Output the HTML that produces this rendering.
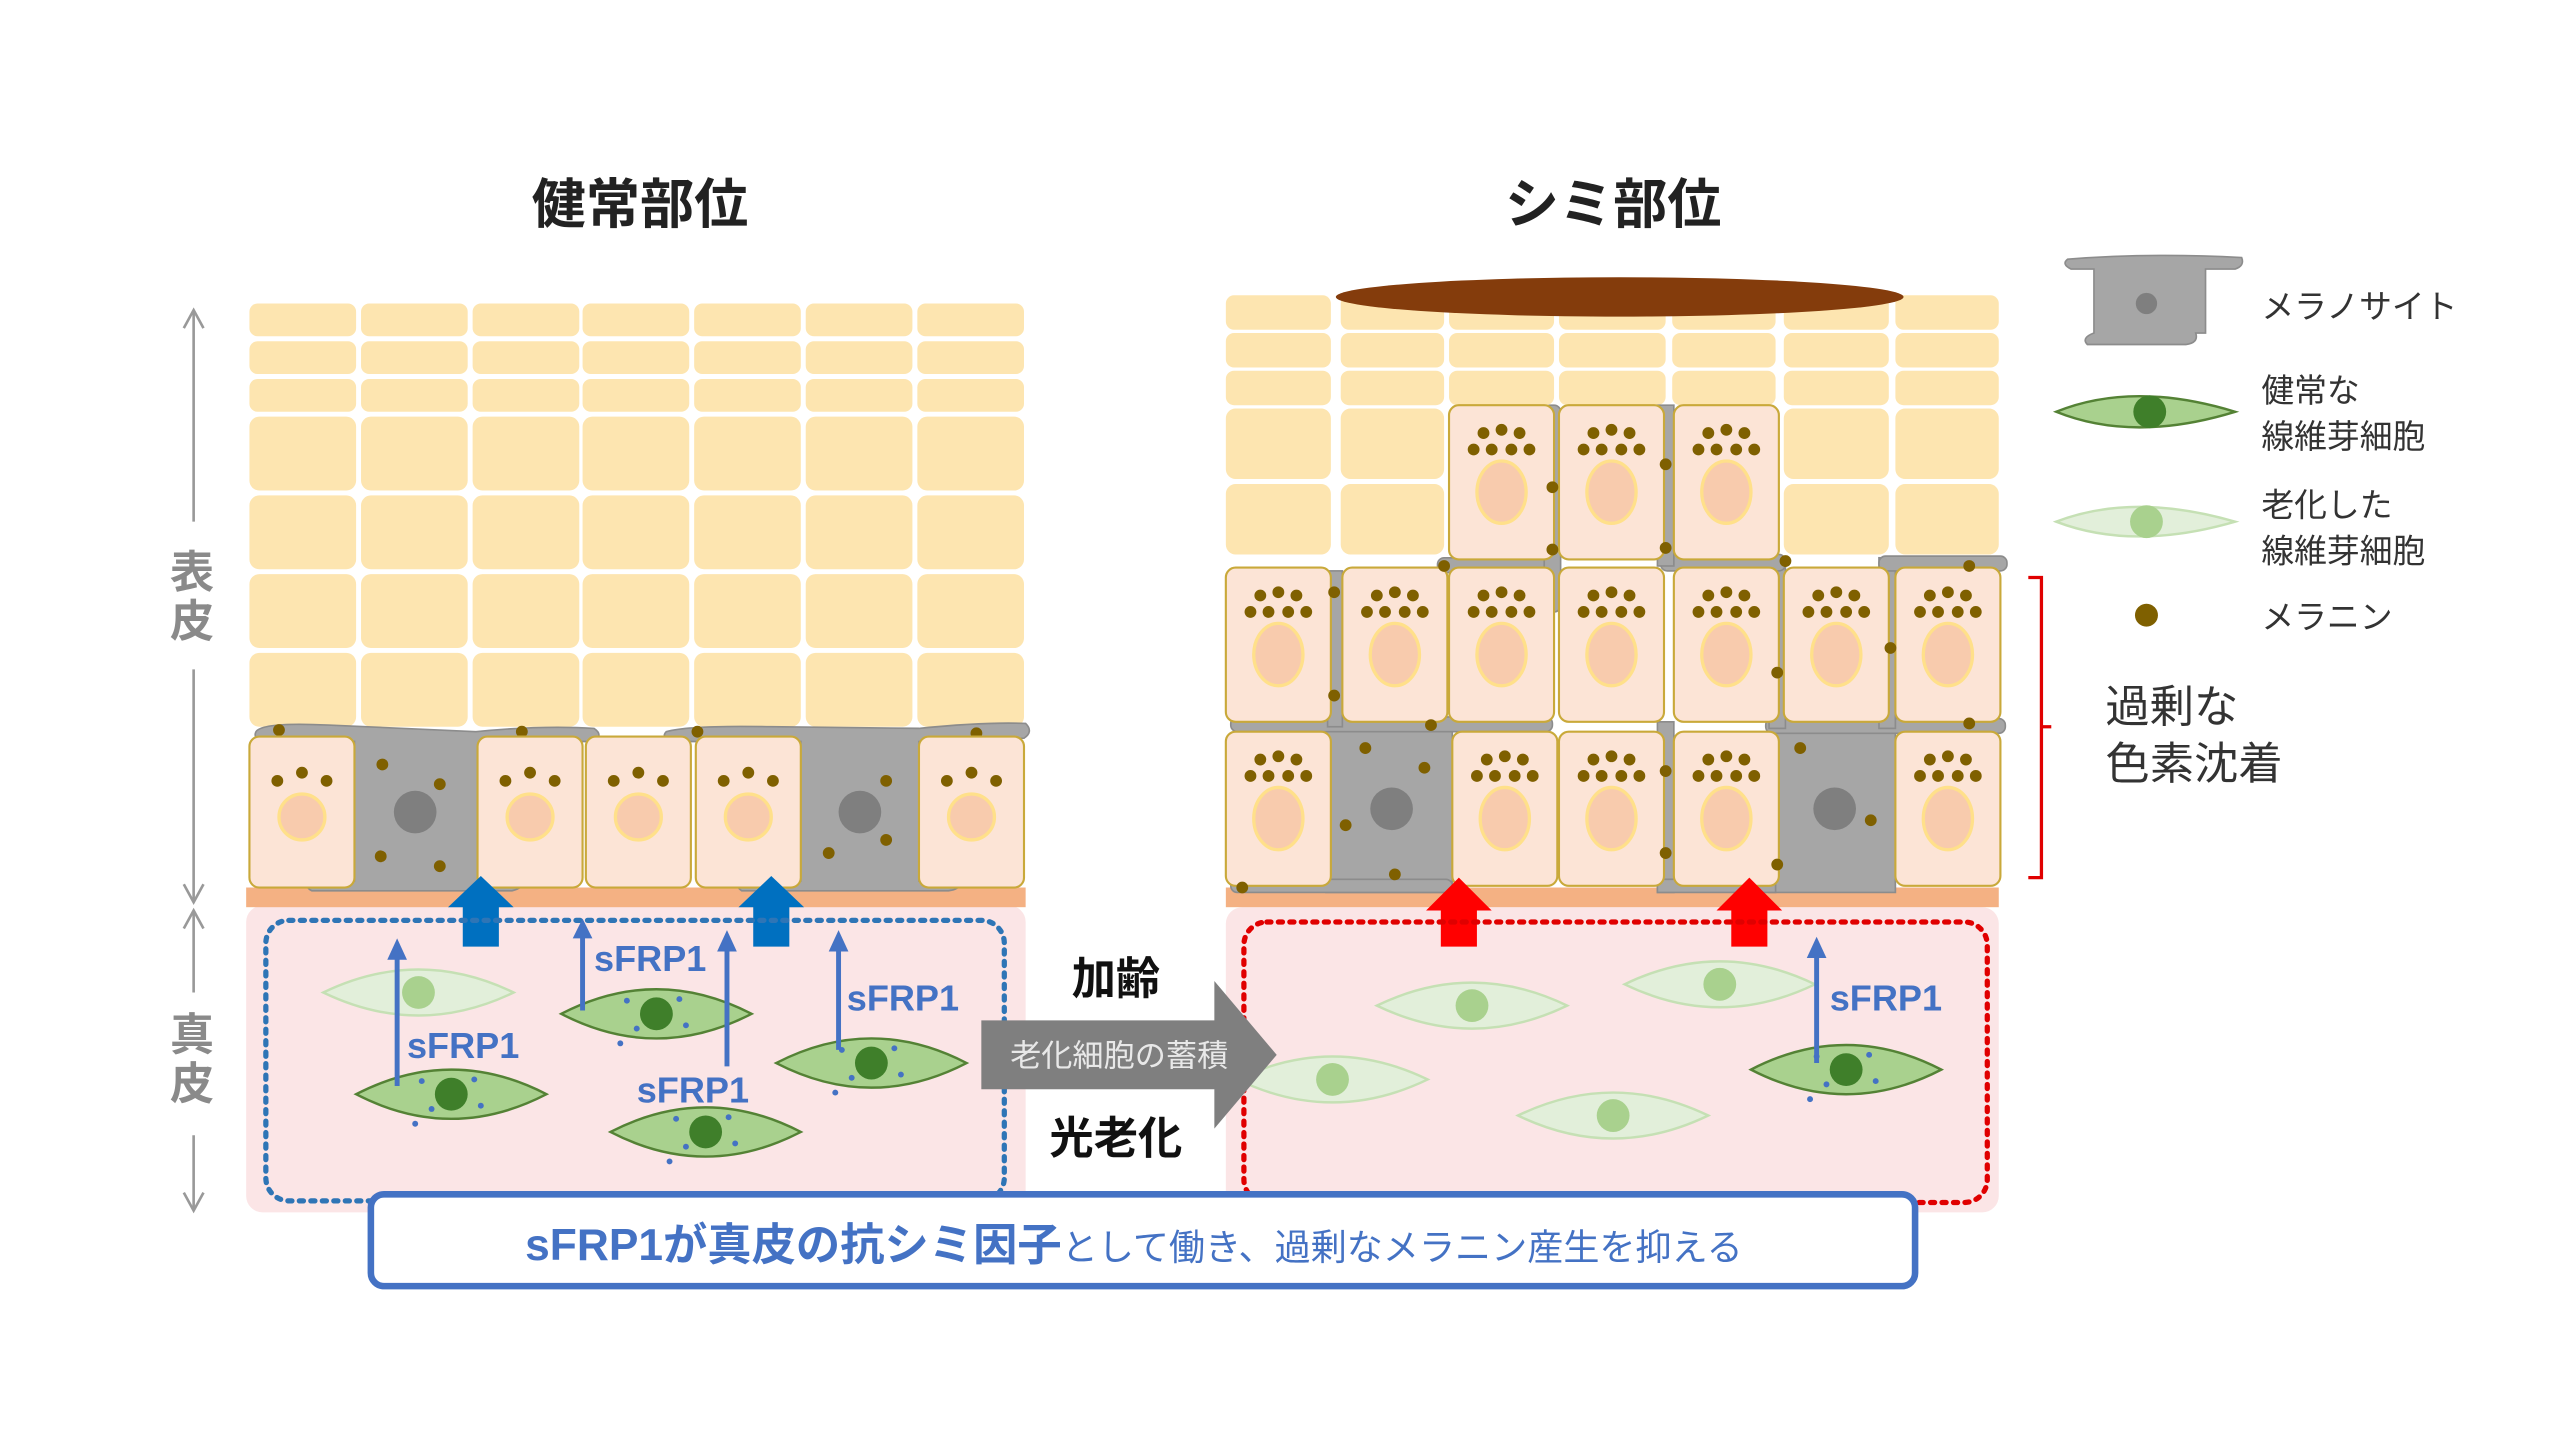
<!DOCTYPE html>
<html><head><meta charset="utf-8"><style>
html,body{margin:0;padding:0;background:#fff;width:2560px;height:1442px;overflow:hidden}
svg{display:block}
text{font-family:"Liberation Sans","Noto Sans CJK JP",sans-serif}
</style></head><body>
<svg width="2560" height="1442" viewBox="0 0 1560 879" preserveAspectRatio="none" xmlns="http://www.w3.org/2000/svg">
<defs>
<g id="kb"><rect x="0" y="0" width="64" height="92" rx="6" fill="#fce4d6" stroke="#c9a93a" stroke-width="1.3"/>
<circle cx="17" cy="27" r="3.6" fill="#7f6000"/><circle cx="32" cy="22" r="3.6" fill="#7f6000"/><circle cx="47" cy="27" r="3.6" fill="#7f6000"/>
<circle cx="32" cy="49" r="14" fill="#f8cbad" stroke="#ffe08a" stroke-width="2"/></g>
<g id="kr"><rect x="0" y="0" width="64" height="94" rx="6" fill="#fce4d6" stroke="#c9a93a" stroke-width="1.3"/>
<g fill="#7f6000"><circle cx="21" cy="17" r="3.6"/><circle cx="32" cy="15" r="3.6"/><circle cx="43" cy="17" r="3.6"/>
<circle cx="15" cy="27" r="3.6"/><circle cx="26" cy="27" r="3.6"/><circle cx="38" cy="27" r="3.6"/><circle cx="49" cy="27" r="3.6"/></g>
<ellipse cx="32" cy="53" rx="15" ry="19" fill="#f8cbad" stroke="#ffe08a" stroke-width="2"/></g>
<g id="fh"><path d="M-58,0 Q0,-30 58,0 Q0,30 -58,0Z" fill="#a9d18e" stroke="#548235" stroke-width="1.5"/><circle cx="0" cy="0" r="10" fill="#3f7f2a"/>
<g fill="#4472c4"><circle cx="-18" cy="-8" r="1.8"/><circle cx="14" cy="-9" r="1.8"/><circle cx="-12" cy="9" r="1.8"/><circle cx="18" cy="7" r="1.8"/><circle cx="-22" cy="18" r="1.8"/></g></g>
<g id="fa"><path d="M-58,0 Q0,-28 58,0 Q0,28 -58,0Z" fill="#e2efda" stroke="#c5e0b4" stroke-width="1.5"/><circle cx="0" cy="0" r="10" fill="#a9d18e"/></g>
</defs>

<!-- titles -->
<text x="390" y="136" font-size="33" font-weight="bold" text-anchor="middle" fill="#222">健常部位</text>
<text x="983" y="136" font-size="33" font-weight="bold" text-anchor="middle" fill="#222">シミ部位</text>

<!-- axis -->
<g stroke="#999" stroke-width="1.6" fill="none">
<line x1="118" y1="190" x2="118" y2="318"/><path d="M112,200 L118,189 L124,200"/>
<line x1="118" y1="408" x2="118" y2="549"/><path d="M112,539 L118,550 L124,539"/>
<line x1="118" y1="556" x2="118" y2="605"/><path d="M112,566 L118,555 L124,566"/>
<line x1="118" y1="692" x2="118" y2="737"/><path d="M112,727 L118,738 L124,727"/>
</g>
<g font-size="27" font-weight="bold" fill="#8a8a8a" text-anchor="middle">
<text x="117" y="358">表</text><text x="117" y="388">皮</text>
<text x="117" y="640">真</text><text x="117" y="670">皮</text></g>

<!-- LEFT grid -->
<g fill="#fde5b0">
<g id="lrow1"><rect x="152" y="185" width="65" height="20" rx="5"/><rect x="220" y="185" width="65" height="20" rx="5"/><rect x="288" y="185" width="65" height="20" rx="5"/><rect x="355" y="185" width="65" height="20" rx="5"/><rect x="423" y="185" width="65" height="20" rx="5"/><rect x="491" y="185" width="65" height="20" rx="5"/><rect x="559" y="185" width="65" height="20" rx="5"/></g>
<use href="#lrow1" y="23"/><use href="#lrow1" y="46"/>
<g id="lrow4"><rect x="152" y="254" width="65" height="45" rx="6"/><rect x="220" y="254" width="65" height="45" rx="6"/><rect x="288" y="254" width="65" height="45" rx="6"/><rect x="355" y="254" width="65" height="45" rx="6"/><rect x="423" y="254" width="65" height="45" rx="6"/><rect x="491" y="254" width="65" height="45" rx="6"/><rect x="559" y="254" width="65" height="45" rx="6"/></g>
<use href="#lrow4" y="48"/><use href="#lrow4" y="96"/><use href="#lrow4" y="144"/>
</g>
<!-- left dermis -->
<rect x="150" y="552" width="475" height="187" rx="10" fill="#fbe5e6"/>
<rect x="150" y="541" width="475" height="12" fill="#f4b183"/>
<!-- left melanocytes -->
<g fill="#a6a6a6" stroke="#8c8c8c" stroke-width="1">
<path d="M156,446 Q160,440 200,442 L290,446 Q330,442 362,444 Q368,448 362,452 L292,452 L292,540 Q300,536 318,537 Q320,541 312,543 L190,543 Q184,540 192,536 L216,537 L216,452 L160,452 Q154,450 156,446Z"/>
<path d="M406,446 Q420,442 470,443 L560,444 Q600,440 625,441 Q630,446 624,450 L560,452 L560,537 Q575,535 585,537 Q586,542 578,543 L452,543 Q446,539 456,536 L488,537 L488,452 L412,452 Q402,450 406,446Z"/>
</g>
<circle cx="253" cy="495" r="13" fill="#7f7f7f"/><circle cx="524" cy="495" r="13" fill="#7f7f7f"/>
<g fill="#7f6000"><circle cx="170" cy="445" r="3.6"/><circle cx="233" cy="466" r="3.6"/><circle cx="268" cy="478" r="3.6"/><circle cx="232" cy="522" r="3.6"/><circle cx="268" cy="528" r="3.6"/><circle cx="318" cy="446" r="3.6"/>
<circle cx="425" cy="446" r="3.6"/><circle cx="540" cy="476" r="3.6"/><circle cx="505" cy="520" r="3.6"/><circle cx="540" cy="512" r="3.6"/><circle cx="595" cy="447" r="3.6"/></g>
<use href="#kb" x="152" y="449"/><use href="#kb" x="291" y="449"/><use href="#kb" x="357" y="449"/><use href="#kb" x="424" y="449"/><use href="#kb" x="560" y="449"/>
<!-- blue arrows -->
<g fill="#0070c0"><path d="M273,553 L293,534 L313,553 L304,553 L304,577 L282,577 L282,553Z"/><path d="M450,553 L470,534 L490,553 L481,553 L481,577 L459,577 L459,553Z"/></g>
<rect x="162" y="561" width="450" height="171" rx="14" fill="none" stroke="#2e75b6" stroke-width="3.2" stroke-dasharray="2.5,4.5" stroke-linecap="round"/>
<!-- left fibroblasts -->
<use href="#fa" x="255" y="605"/>
<use href="#fh" x="275" y="667"/><use href="#fh" x="400" y="618"/><use href="#fh" x="430" y="690"/><use href="#fh" x="531" y="648"/>
<g stroke="#4472c4" stroke-width="3"><line x1="242" y1="662" x2="242" y2="583"/><line x1="355" y1="616" x2="355" y2="570"/><line x1="443" y1="650" x2="443" y2="578"/><line x1="511" y1="640" x2="511" y2="578"/></g>
<g fill="#4472c4"><path d="M236,585 L242,572 L248,585Z"/><path d="M349,572 L355,560 L361,572Z"/><path d="M437,580 L443,567 L449,580Z"/><path d="M505,580 L511,567 L517,580Z"/></g>
<g font-size="22" font-weight="bold" fill="#4472c4">
<text x="248" y="645">sFRP1</text><text x="362" y="592">sFRP1</text><text x="388" y="672">sFRP1</text><text x="516" y="616">sFRP1</text></g>

<!-- RIGHT grid -->
<g fill="#fde5b0">
<g id="rrow1"><rect x="747" y="180" width="64" height="21" rx="5"/><rect x="817" y="180" width="63" height="21" rx="5"/><rect x="883" y="180" width="64" height="21" rx="5"/><rect x="950" y="180" width="65" height="21" rx="5"/><rect x="1019" y="180" width="63" height="21" rx="5"/><rect x="1087" y="180" width="64" height="21" rx="5"/><rect x="1155" y="180" width="63" height="21" rx="5"/></g>
<use href="#rrow1" y="23"/><use href="#rrow1" y="46"/>
<g id="rrow4"><rect x="747" y="249" width="64" height="43" rx="6"/><rect x="817" y="249" width="63" height="43" rx="6"/><rect x="1087" y="249" width="64" height="43" rx="6"/><rect x="1155" y="249" width="63" height="43" rx="6"/></g>
<use href="#rrow4" y="46"/>
</g>
<ellipse cx="987" cy="181" rx="173" ry="12" fill="#843c0c"/>
<rect x="747" y="553" width="471" height="186" rx="10" fill="#fbe5e6"/>
<rect x="747" y="541" width="471" height="12" fill="#f4b183"/>
<!-- right melanocyte network -->
<g fill="#a6a6a6" stroke="#8c8c8c" stroke-width="1">
<rect x="808" y="440" width="77" height="104"/>
<rect x="750" y="437" width="196" height="9" rx="4"/>
<rect x="750" y="536" width="135" height="8" rx="4"/>
<rect x="809" y="348" width="9" height="95"/>
<rect x="876" y="340" width="74" height="9" rx="4"/>
<rect x="941" y="247" width="10" height="126" rx="4"/>
<rect x="1078" y="440" width="77" height="104"/>
<rect x="1076" y="438" width="146" height="9" rx="4"/>
<rect x="1078" y="340" width="10" height="104"/>
<rect x="1012" y="338" width="76" height="10" rx="4"/>
<rect x="1010" y="247" width="10" height="98"/>
<rect x="1145" y="340" width="10" height="104"/>
<rect x="1145" y="339" width="78" height="9" rx="4"/>
<rect x="1010" y="440" width="10" height="104"/>
<rect x="1010" y="536" width="72" height="8"/>
</g>
<circle cx="848" cy="493" r="13" fill="#7f7f7f"/><circle cx="1118" cy="493" r="13" fill="#7f7f7f"/>
<use href="#kr" x="883" y="247"/><use href="#kr" x="950" y="247"/><use href="#kr" x="1020" y="247"/>
<use href="#kr" x="747" y="346"/><use href="#kr" x="818" y="346"/><use href="#kr" x="883" y="346"/><use href="#kr" x="950" y="346"/><use href="#kr" x="1020" y="346"/><use href="#kr" x="1087" y="346"/><use href="#kr" x="1155" y="346"/>
<use href="#kr" x="747" y="446"/><use href="#kr" x="885" y="446"/><use href="#kr" x="950" y="446"/><use href="#kr" x="1020" y="446"/><use href="#kr" x="1155" y="446"/>
<g fill="#7f6000"><circle cx="832" cy="456" r="3.6"/><circle cx="868" cy="468" r="3.6"/><circle cx="820" cy="503" r="3.6"/><circle cx="850" cy="533" r="3.6"/><circle cx="872" cy="442" r="3.6"/><circle cx="813" cy="424" r="3.6"/><circle cx="813" cy="361" r="3.6"/><circle cx="946" cy="297" r="3.6"/><circle cx="946" cy="335" r="3.6"/><circle cx="1015" cy="283" r="3.6"/><circle cx="1015" cy="334" r="3.6"/><circle cx="1097" cy="456" r="3.6"/><circle cx="1140" cy="500" r="3.6"/><circle cx="1083" cy="527" r="3.6"/><circle cx="1083" cy="410" r="3.6"/><circle cx="1152" cy="395" r="3.6"/><circle cx="1200" cy="441" r="3.6"/><circle cx="1200" cy="345" r="3.6"/><circle cx="757" cy="541" r="3.6"/><circle cx="1015" cy="470" r="3.6"/><circle cx="1015" cy="520" r="3.6"/><circle cx="880" cy="345" r="3.6"/><circle cx="1088" cy="342" r="3.6"/></g>
<!-- red arrows -->
<g fill="#ff0000"><path d="M869,555 L889,535 L909,555 L900,555 L900,577 L878,577 L878,555Z"/><path d="M1046,555 L1066,535 L1086,555 L1077,555 L1077,577 L1055,577 L1055,555Z"/></g>
<rect x="758" y="562" width="453" height="171" rx="14" fill="none" stroke="#e00000" stroke-width="3.2" stroke-dasharray="2.5,4.5" stroke-linecap="round"/>
<use href="#fa" x="897" y="613"/><use href="#fa" x="1048" y="600"/><use href="#fa" x="812" y="658"/><use href="#fa" x="983" y="680"/>
<use href="#fh" x="1125" y="652"/>
<line x1="1107" y1="648" x2="1107" y2="582" stroke="#4472c4" stroke-width="3"/><path d="M1101,584 L1107,571 L1113,584Z" fill="#4472c4"/>
<text x="1115" y="616" font-size="22" font-weight="bold" fill="#4472c4">sFRP1</text>

<!-- middle arrow (on top) -->
<path d="M598,622 L740,622 L740,598 L778,643 L740,688 L740,664 L598,664Z" fill="#7f7f7f"/>
<text x="682" y="650" font-size="19" fill="#e8e8e8" text-anchor="middle">老化細胞の蓄積</text>
<text x="680" y="606" font-size="27" font-weight="bold" fill="#111" text-anchor="middle">加齢</text>
<text x="680" y="703" font-size="27" font-weight="bold" fill="#111" text-anchor="middle">光老化</text>

<!-- bracket -->
<path d="M1236,352 L1244,352 L1244,535 L1236,535 M1244,443 L1250,443" fill="none" stroke="#e00000" stroke-width="2"/>

<!-- legend -->
<path d="M1260,158 Q1310,154 1366,157 Q1368,162 1362,164 L1344,164 L1344,203 L1338,203 Q1340,209 1332,210 L1272,210 Q1268,206 1276,203 L1276,164 L1262,164 Q1256,161 1260,158Z" fill="#a6a6a6" stroke="#8c8c8c" stroke-width="1"/>
<circle cx="1308" cy="185" r="6.5" fill="#7f7f7f"/>
<path d="M1253,251 Q1300,232 1362,251 Q1300,270 1253,251Z" fill="#a9d18e" stroke="#548235" stroke-width="1.5"/><circle cx="1310" cy="251" r="10" fill="#3f7f2a"/>
<path d="M1253,318 Q1300,300 1362,318 Q1300,336 1253,318Z" fill="#e2efda" stroke="#c5e0b4" stroke-width="1.5"/><circle cx="1308" cy="318" r="10" fill="#a9d18e"/>
<circle cx="1308" cy="375" r="7" fill="#7f6000"/>
<g font-size="20" fill="#333">
<text x="1378" y="194">メラノサイト</text>
<text x="1378" y="245">健常な</text><text x="1378" y="273">線維芽細胞</text>
<text x="1378" y="315">老化した</text><text x="1378" y="343">線維芽細胞</text>
<text x="1378" y="383">メラニン</text></g>
<g font-size="27" fill="#333"><text x="1283" y="440">過剰な</text><text x="1283" y="475">色素沈着</text></g>

<!-- bottom box -->
<rect x="226" y="728" width="941" height="56" rx="8" fill="#fff" stroke="#4472c4" stroke-width="4"/>
<text x="320" y="768" fill="#4472c4"><tspan font-size="27" font-weight="bold">sFRP1が真皮の抗シミ因子</tspan><tspan font-size="22">として働き、過剰なメラニン産生を抑える</tspan></text>
</svg>
</body></html>
